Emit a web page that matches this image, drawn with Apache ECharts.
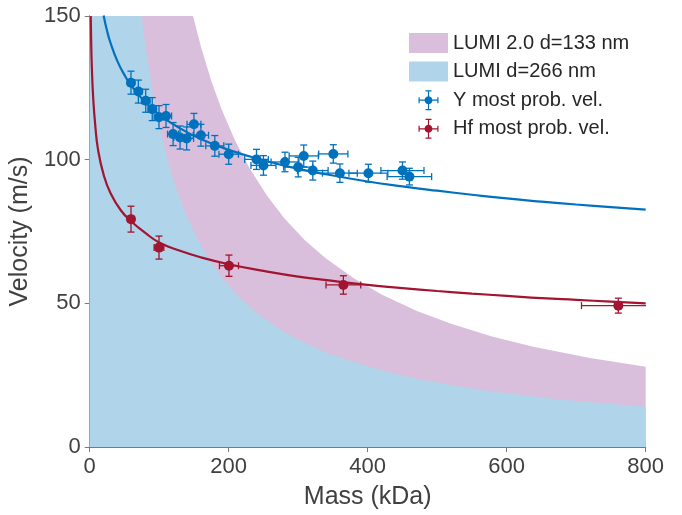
<!DOCTYPE html>
<html>
<head>
<meta charset="utf-8">
<script src="https://cdn.jsdelivr.net/npm/echarts@6/dist/echarts.min.js"></script>
<style>html,body{margin:0;padding:0;background:#fff}#c{width:682px;height:515px}</style>
</head>
<body>
<div id="c"></div>
<script>
// ---- Data ----
// Band upper edges (LUMI d=266 nm and LUMI 2.0 d=133 nm)
const lumiMass = [0, 74.7, 80, 90, 100, 110, 120, 135, 150, 170, 190, 215, 240, 270, 300, 340, 380, 430, 480, 540, 600, 670, 740, 800];
const lumiVel  = [150, 150, 140, 124.4, 112, 101.8, 93.3, 83, 74.7, 65.9, 58.9, 52.1, 46.7, 41.5, 37.3, 32.9, 29.5, 26, 23.3, 20.7, 18.7, 16.7, 15.1, 14.0];
const lumi2Mass = [0, 148.7, 160, 175, 190, 210, 230, 255, 280, 310, 340, 380, 420, 470, 520, 580, 640, 720, 800];
const lumi2Vel  = [150, 150, 139.4, 127.4, 117.4, 106.2, 97, 87.5, 79.6, 71.9, 65.6, 58.7, 53.1, 47.4, 42.9, 38.4, 34.8, 31, 27.9];

// Fit curves
const yFitMass = [20, 25, 30, 40, 50, 60, 80, 100, 130, 160, 200, 250, 300, 350, 400, 450, 500, 550, 600, 650, 700, 750, 800];
const yFitVel  = [150.2, 144.8, 140.6, 134.2, 129.5, 125.7, 120.0, 115.7, 110.9, 107.2, 103.4, 99.8, 96.8, 94.5, 92.4, 90.7, 89.2, 87.8, 86.5, 85.4, 84.4, 83.5, 82.6];
const hfFitMass = [1.5, 2, 3, 5, 8, 12, 20, 30, 45, 60, 80, 100, 130, 160, 200, 250, 300, 350, 400, 450, 500, 550, 600, 650, 700, 750, 800];
const hfFitVel  = [150, 142.6, 132.8, 121.5, 111.9, 103.5, 94.8, 88.3, 82.3, 78.5, 74.5, 71.2, 68.3, 66.0, 63.6, 61.3, 59.3, 57.8, 56.4, 55.3, 54.3, 53.4, 52.6, 51.8, 51.2, 50.6, 50.0];

// Y most probable velocity
const yMass = [59.4, 70, 80.6, 90, 99.7, 109.8, 120, 130, 139.5, 150, 160, 180, 200, 240, 250, 281, 300, 308, 321, 350.5, 360, 401, 450, 460];
const yVel  = [126.8, 123.7, 120.5, 117.6, 114.8, 115.2, 108.9, 107.7, 107.4, 112.3, 108.5, 104.8, 101.9, 100.1, 98, 99.2, 97.4, 101.3, 96.2, 102, 95.3, 95.3, 96.2, 94.1];
const yMassErr = [5, 5, 6, 6, 7, 8, 8, 9, 10, 10, 11, 13, 14, 17, 18, 20, 21, 21, 22, 21, 25, 28, 31, 32];
const yVelErr  = [4, 4, 4, 4, 4, 4, 4, 4, 4, 3.8, 3.8, 3.6, 3.5, 3.5, 3.4, 3.4, 3.4, 3.8, 3.3, 3.2, 3.2, 3.1, 3, 2.9];

// Hf most probable velocity
const hfMass = [59.4, 99.7, 200.4, 365, 760.6];
const hfVel  = [79.3, 69.4, 63.1, 56.4, 49.2];
const hfMassErr = [4, 7, 13.7, 25, 53];
const hfVelErr  = [4.5, 4, 3.7, 3.2, 2.6];

// Axis ticks
const xTicks = [0, 200, 400, 600, 800];
const yTicks = [0, 50, 100, 150];

// ---- Build ----
const FONT = 'Liberation Sans, Arial, Helvetica, sans-serif';
const BLUE = '#0072bd', RED = '#a2142f';
const pair = (a, b) => a.map((v, i) => [v, b[i]]);
const quad = (a, b, c, d) => a.map((v, i) => [v, b[i], c[i], d[i]]);

function errRender(color) {
  return function (params, api) {
    const x = api.value(0), y = api.value(1), ex = api.value(2), ey = api.value(3);
    const l = api.coord([x - ex, y]), r = api.coord([x + ex, y]);
    const t = api.coord([x, y + ey]), b = api.coord([x, y - ey]);
    const cap = 3.5;
    const st = { stroke: color, lineWidth: 1.3 };
    const ln = (x1, y1, x2, y2) => ({ type: 'line', shape: { x1, y1, x2, y2 }, style: st });
    return {
      type: 'group',
      children: [
        ln(l[0], l[1], r[0], r[1]),
        ln(l[0], l[1] - cap, l[0], l[1] + cap),
        ln(r[0], r[1] - cap, r[0], r[1] + cap),
        ln(t[0], t[1], b[0], b[1]),
        ln(t[0] - cap, t[1], t[0] + cap, t[1]),
        ln(b[0] - cap, b[1], b[0] + cap, b[1])
      ]
    };
  };
}

const errIcon = 'path://M0,9.4L20,9.4L20,10.6L0,10.6Z' +
  'M0,7L1.2,7L1.2,13L0,13Z' +
  'M18.8,7L20,7L20,13L18.8,13Z' +
  'M9.4,0L10.6,0L10.6,20L9.4,20Z' +
  'M7,0L13,0L13,1.2L7,1.2Z' +
  'M7,18.8L13,18.8L13,20L7,20Z' +
  'M14,10L13.46,12L12,13.46L10,14L8,13.46L6.54,12L6,10L6.54,8L8,6.54L10,6L12,6.54L13.46,8Z';

const axisLineStyle = { color: '#7a7a7a', width: 1 };
const tickStyle = { inside: true, length: 5, lineStyle: { color: '#7a7a7a', width: 1 } };
const labelStyle = { color: '#404040', fontSize: 22, fontFamily: FONT };

const option = {
  animation: false,
  backgroundColor: '#ffffff',
  grid: { left: 89.7, right: 36.3, top: 16, bottom: 68, containLabel: false },
  xAxis: [
    {
      type: 'value', min: xTicks[0], max: xTicks[xTicks.length - 1], interval: 200,
      position: 'bottom',
      name: 'Mass (kDa)', nameLocation: 'middle', nameGap: 38,
      nameTextStyle: { color: '#404040', fontSize: 25, fontFamily: FONT },
      axisLine: { show: true, lineStyle: axisLineStyle },
      axisTick: tickStyle,
      axisLabel: Object.assign({ margin: 9 }, labelStyle),
      splitLine: { show: false }
    },
    {
      type: 'value', min: xTicks[0], max: xTicks[xTicks.length - 1], interval: 200,
      position: 'top',
      axisLine: { show: true, lineStyle: axisLineStyle },
      axisTick: tickStyle,
      axisLabel: { show: false },
      splitLine: { show: false }
    }
  ],
  yAxis: [
    {
      type: 'value', min: yTicks[0], max: yTicks[yTicks.length - 1], interval: 50,
      position: 'left',
      name: 'Velocity (m/s)', nameLocation: 'middle', nameGap: 51,
      nameTextStyle: { color: '#404040', fontSize: 25, fontFamily: FONT },
      axisLine: { show: true, lineStyle: axisLineStyle },
      axisTick: tickStyle,
      axisLabel: Object.assign({ margin: 9 }, labelStyle),
      splitLine: { show: false }
    },
    {
      type: 'value', min: yTicks[0], max: yTicks[yTicks.length - 1], interval: 50,
      position: 'right',
      axisLine: { show: true, lineStyle: axisLineStyle },
      axisTick: tickStyle,
      axisLabel: { show: false },
      splitLine: { show: false }
    }
  ],
  legend: {
    orient: 'vertical', left: 404, top: 28,
    itemWidth: 39, itemHeight: 20, itemGap: 8.6,
    selectedMode: false,
    textStyle: { color: '#262626', fontSize: 20, fontFamily: FONT },
    data: [
      { name: 'LUMI 2.0 d=133 nm', icon: 'rect' },
      { name: 'LUMI d=266 nm', icon: 'rect' },
      { name: 'Y most prob. vel.', icon: errIcon, itemStyle: { color: BLUE, opacity: 1 } },
      { name: 'Hf most prob. vel.', icon: errIcon, itemStyle: { color: RED, opacity: 1 } }
    ]
  },
  series: [
    {
      name: 'LUMI 2.0 d=133 nm', type: 'line', data: pair(lumi2Mass, lumi2Vel),
      symbol: 'none', smooth: false, color: '#d9bfdc',
      lineStyle: { width: 0 }, areaStyle: { color: '#d9bfdc', opacity: 1 }, silent: true, z: 1
    },
    {
      name: 'LUMI d=266 nm', type: 'line', data: pair(lumiMass, lumiVel),
      symbol: 'none', smooth: false, color: '#b0d4ea',
      lineStyle: { width: 0 }, areaStyle: { color: '#b0d4ea', opacity: 1 }, silent: true, z: 2
    },
    {
      name: 'Hf fit', type: 'line', data: pair(hfFitMass, hfFitVel),
      symbol: 'none', smooth: true, color: RED, lineStyle: { width: 2.2, color: RED }, z: 3
    },
    {
      name: 'Y fit', type: 'line', data: pair(yFitMass, yFitVel),
      symbol: 'none', smooth: true, color: BLUE, lineStyle: { width: 2.2, color: BLUE }, z: 3
    },
    {
      name: 'Y err', type: 'custom', renderItem: errRender(BLUE), clip: true,
      data: quad(yMass, yVel, yMassErr, yVelErr), encode: { x: 0, y: 1 }, z: 4
    },
    {
      name: 'Hf err', type: 'custom', renderItem: errRender(RED), clip: true,
      data: quad(hfMass, hfVel, hfMassErr, hfVelErr), encode: { x: 0, y: 1 }, z: 4
    },
    {
      name: 'Y most prob. vel.', type: 'scatter', data: pair(yMass, yVel),
      symbol: 'circle', symbolSize: 10, color: BLUE, itemStyle: { color: BLUE, opacity: 1 }, z: 5
    },
    {
      name: 'Hf most prob. vel.', type: 'scatter', data: pair(hfMass, hfVel),
      symbol: 'circle', symbolSize: 10, color: RED, itemStyle: { color: RED, opacity: 1 }, z: 5
    }
  ]
};

const chart = echarts.init(document.getElementById('c'), null, { renderer: 'canvas' });
chart.setOption(option);
</script>
</body>
</html>
